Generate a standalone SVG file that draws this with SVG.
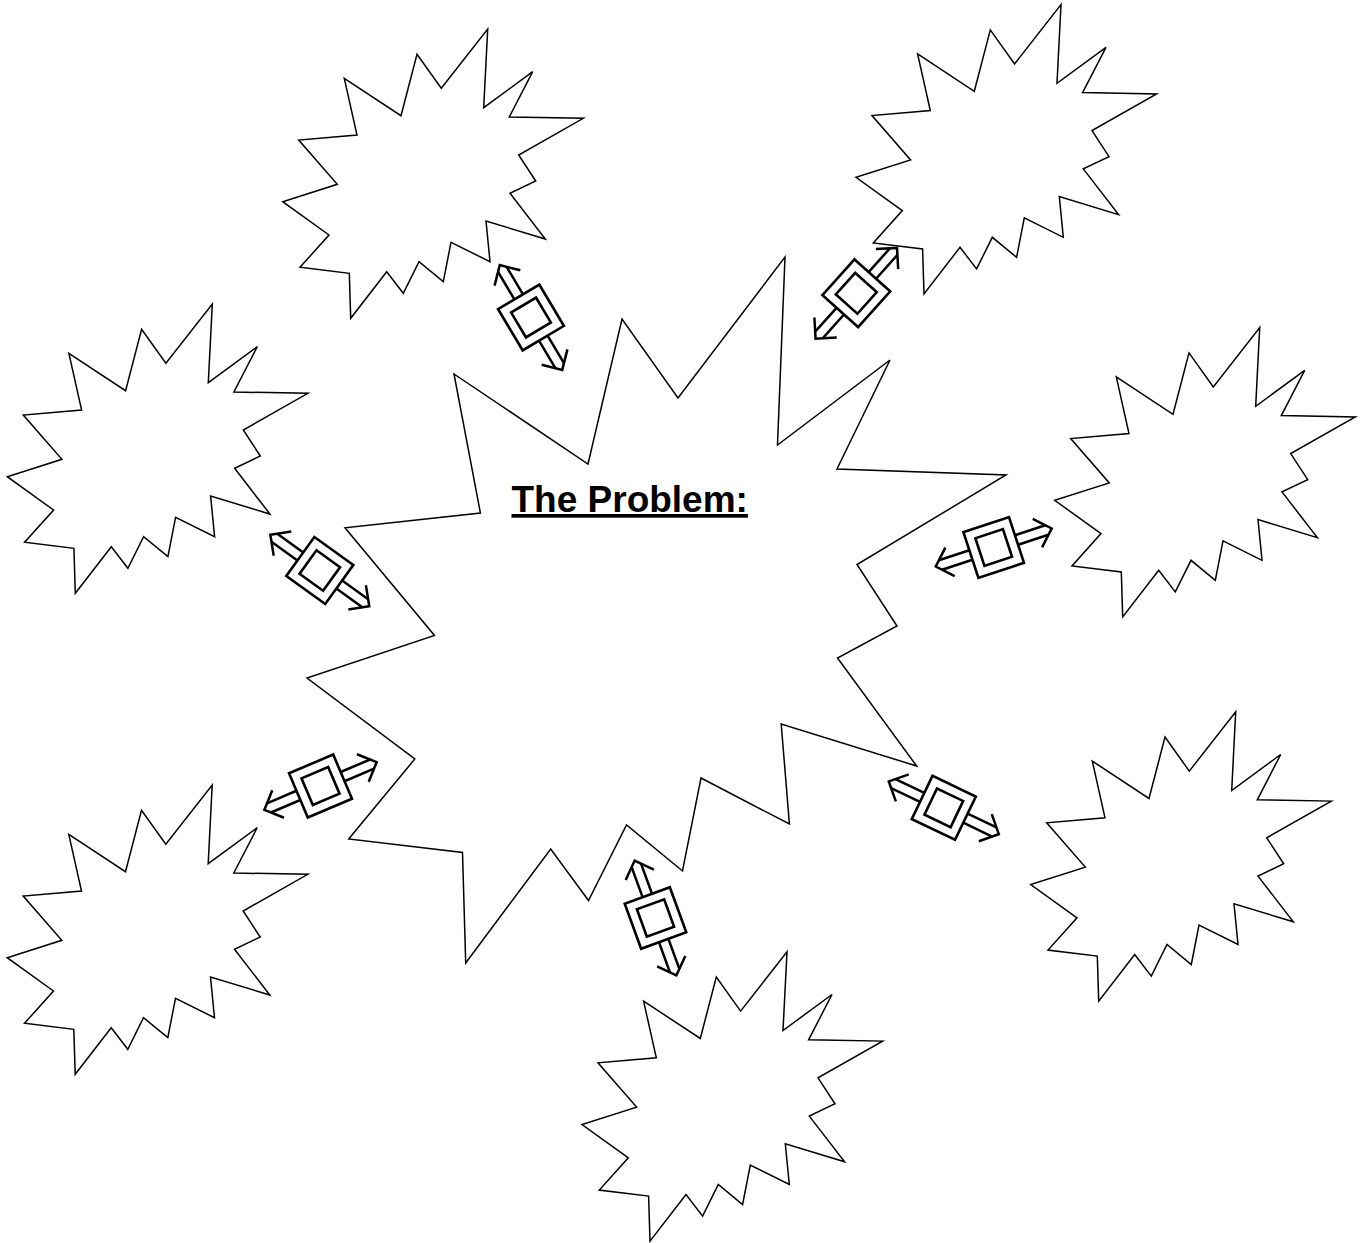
<svg xmlns="http://www.w3.org/2000/svg" xmlns:xlink="http://www.w3.org/1999/xlink" width="1363" height="1243" viewBox="0 0 1363 1243">
<style>
.burst{fill:#fff;stroke:#000;stroke-width:1.5;stroke-linejoin:miter}
.cl{fill:none;stroke:#000;stroke-width:2.5;stroke-linejoin:miter;stroke-linecap:butt}
.cb{fill:#fff;stroke:#000;stroke-width:2.6}
.title{font-family:"Liberation Sans",Arial,sans-serif;font-weight:bold;font-size:37px;fill:#000;text-decoration:underline}
</style>
<defs>
<path id="burst" class="burst" d="M344.3,78.3 L401,115.7 L417,54.3 L441.3,88.3 L487.7,29 L483.7,107.7 L532.7,71.7 L509.3,117 L583.3,118.3 L518.7,155 L535.7,181 L510,193.3 L545.3,239 L486,221 L490,261.7 L451,242.3 L443.3,281.7 L419,261.7 L403.3,293.3 L386.7,271.7 L350.7,318.3 L349.3,273.3 L300,267.3 L329,235 L282.7,201.7 L337.3,184.3 L298.7,140 L357,135 Z"/>
<g id="conn">
<path class="cl" d="M-24,-5 H-56 M-24,5 H-56 M24,-5 H56 M24,5 H56"/>
<path class="cl" d="M-46,-15 L-61,0 L-46,15 M46,-15 L61,0 L46,15"/>
<rect class="cb" x="-24" y="-24" width="48" height="48"/>
<rect class="cb" x="-14.5" y="-14.5" width="29" height="29"/>
</g>
</defs>
<rect width="1363" height="1243" fill="#fff"/>
<g id="problem">
<path class="burst" d="M454,374 L588,464 L622,319 L678,398 L785,257 L777.5,445 L890,360 L837,469 L1006,475 L857,564.5 L897,626 L837.5,658 L916.6,766 L781.2,724 L789.4,824 L701,778 L682.5,871 L626.5,825 L588.5,900.5 L550.7,849 L465.7,963 L462.5,852.4 L348.7,839 L414.8,759 L307,678 L434.5,635.5 L345,527.8 L480.4,513 Z"/>
<text class="title" x="511.5" y="512">The Problem:</text>
</g>
<g id="cause-top-left"><use xlink:href="#burst" href="#burst"/></g>
<g id="cause-top-right"><use xlink:href="#burst" href="#burst" transform="translate(573.3,-24.4)"/></g>
<g id="cause-left"><use xlink:href="#burst" href="#burst" transform="translate(-275.4,275)"/></g>
<g id="cause-right"><use xlink:href="#burst" href="#burst" transform="translate(772,298.6)"/></g>
<g id="cause-bottom-right"><use xlink:href="#burst" href="#burst" transform="translate(748,682.8)"/></g>
<g id="cause-bottom"><use xlink:href="#burst" href="#burst" transform="translate(299.3,922.8)"/></g>
<g id="cause-bottom-left"><use xlink:href="#burst" href="#burst" transform="translate(-275.5,756)"/></g>
<g id="connectors">
<use xlink:href="#conn" href="#conn" transform="translate(531,317.5) rotate(59.2)"/>
<use xlink:href="#conn" href="#conn" transform="translate(856.3,293.3) rotate(-48.1)"/>
<use xlink:href="#conn" href="#conn" transform="translate(319.8,570.5) rotate(35.8)"/>
<use xlink:href="#conn" href="#conn" transform="translate(993.7,547.5) rotate(-18.2)"/>
<use xlink:href="#conn" href="#conn" transform="translate(320.5,786) rotate(-23)"/>
<use xlink:href="#conn" href="#conn" transform="translate(655.5,918) rotate(70)"/>
<use xlink:href="#conn" href="#conn" transform="translate(943.8,807.8) rotate(25.6)"/>
</g>
</svg>
